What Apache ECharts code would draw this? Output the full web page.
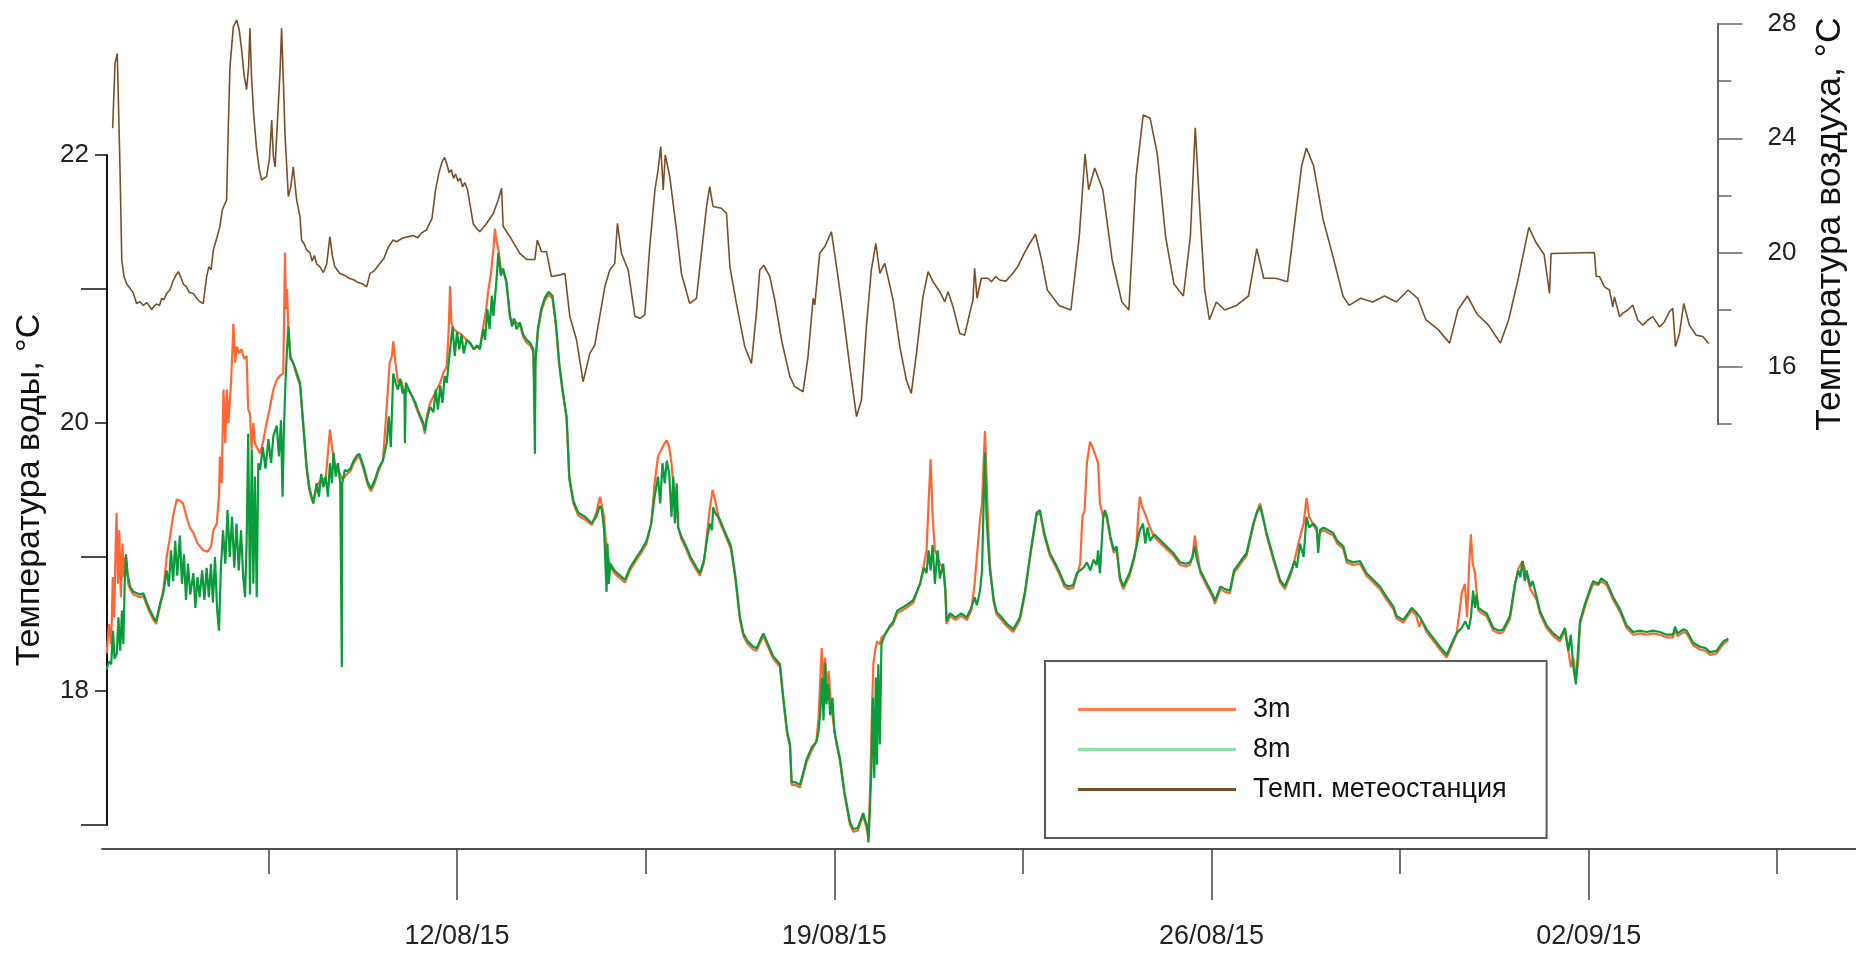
<!DOCTYPE html>
<html>
<head>
<meta charset="utf-8">
<script src="https://cdn.jsdelivr.net/npm/echarts@6/dist/echarts.min.js"></script>
<style>
  html, body { margin: 0; padding: 0; background: #fff; }
  #chart { width: 1856px; height: 953px; }
</style>
</head>
<body>
<div id="chart"></div>
<script>
// Time is measured in hours from 05/08/2015 00:00 (UTC).
const timeOrigin = Date.UTC(2015, 7, 5);

// Labelled date ticks and the unlabelled half-week ticks between them (hours).
const dateTicks = ['12/08/15', '19/08/15', '26/08/15', '02/09/15'];
const midWeekTicks = [84, 252, 420, 588, 756];

// Water temperature axis (left) and air temperature axis (right).
const waterTicks = [18, 20, 22];
const waterMinorTicks = [17, 19, 21];
const airTicks = [16, 20, 24, 28];
const airMinorTicks = [14, 18, 22, 26];

// Water temperature at 3 m, [hour, °C]
const water3m = [
  [12.0,18.28],[13.0,18.50],[14.0,18.35],[14.7,18.85],[15.3,18.55],[16.0,19.10],[16.4,19.33],[17.0,18.80],[17.6,19.20],[18.3,18.70],[19.0,19.10],[19.6,18.85],[20.3,19.00],[20.9,18.95],[21.6,18.80],[22.4,18.76],
  [23.9,18.72],[26.8,18.70],[28.3,18.71],[30.5,18.61],[32.8,18.53],[34.0,18.50],[35.7,18.63],[37.2,18.75],
  [38.7,19.00],[40.0,19.13],[41.5,19.30],[43.2,19.43],[44.6,19.42],[46.0,19.40],[47.5,19.30],[49.0,19.22],[50.6,19.18],[52.5,19.10],[55.0,19.05],[57.0,19.04],[58.5,19.08],[59.5,19.20],[61.0,19.25],[62.0,19.45],[62.4,19.75],[63.2,19.55],[64.0,20.25],[64.8,19.85],[65.5,20.25],[66.2,20.00],[67.2,20.25],[68.0,20.55],[68.4,20.74],[69.2,20.45],[69.9,20.57],[71.0,20.52],[72.0,20.55],[73.2,20.48],[74.3,20.50],
  [75.0,20.10],[75.8,20.07],[76.5,19.80],[77.3,20.00],[78.0,19.85],[78.8,19.82],[80.3,19.77],[81.5,19.85],[83.2,20.00],[84.5,20.10],[86.2,20.25],[87.7,20.32],[89.0,20.35],[90.6,20.37],[91.0,20.80],[91.4,21.27],[91.8,20.85],[92.3,21.00],[92.9,20.70],
  [93.8,20.50],[95.0,20.45],[96.5,20.36],[98.1,20.28],[99.5,19.98],[101.0,19.66],[102.2,19.50],[103.3,19.43],[104.0,19.40],[105.5,19.53],[107.5,19.58],[109.5,19.58],[111.4,19.95],[112.5,19.80],[113.5,19.70],[115.0,19.65],[117.0,19.58],
  [119.0,19.62],[120.5,19.64],[122.0,19.70],[123.5,19.74],[124.5,19.75],[126.3,19.66],[128.2,19.54],[129.7,19.49],[131.5,19.56],[133.0,19.64],[135.0,19.72],[136.0,19.95],[137.0,20.20],[138.0,20.45],[139.0,20.50],[139.6,20.61],
  [140.6,20.45],[141.7,20.30],[143.0,20.32],[144.8,20.22],[146.5,20.25],[148.0,20.20],[149.5,20.13],[151.5,20.04],[153.0,19.98],[153.7,19.92],[154.5,20.05],[156.0,20.15],[157.5,20.20],[159.0,20.25],[160.5,20.30],[162.0,20.38],[163.4,20.42],
  [164.3,20.70],[164.9,21.02],[165.5,20.75],[166.5,20.70],[168.0,20.68],[170.0,20.66],[172.3,20.62],[173.8,20.59],[175.5,20.55],[177.0,20.57],[178.2,20.56],[179.7,20.72],[181.0,20.85],[182.0,21.00],[183.0,21.10],[184.2,21.30],[184.9,21.45],[185.6,21.35],[186.4,21.30],[187.5,21.15],[188.5,21.15],[190.0,21.05],
  [191.6,20.78],[193.5,20.76],[196.0,20.73],[197.5,20.64],[199.0,20.60],[200.5,20.58],[202.0,20.53],[202.5,20.53],[202.7,20.10],[202.9,20.45],[204.0,20.68],[205.5,20.83],[207.0,20.91],[208.7,20.96],[210.5,20.93],[212.0,20.73],[213.5,20.43],[215.0,20.23],[216.8,20.03],
  [218.0,19.58],[219.8,19.40],[222.0,19.31],[225.0,19.28],[228.0,19.24],[230.0,19.33],[231.7,19.45],[232.4,19.46],[233.5,19.30],[234.6,19.05],[236.3,18.93],[238.0,18.88],[240.0,18.85],[242.8,18.81],[245.0,18.90],[248.0,18.98],[250.0,19.03],[252.4,19.10],
  [254.5,19.25],[256.0,19.55],[257.5,19.75],[259.0,19.80],[260.5,19.85],[261.4,19.87],[262.5,19.82],[263.5,19.70],[264.3,19.55],[265.8,19.40],[266.5,19.22],[268.0,19.13],[270.0,19.06],[272.0,18.98],[274.7,18.90],[276.2,18.86],
  [278.0,18.96],[279.5,19.20],[280.5,19.35],[281.8,19.50],[283.0,19.42],[285.0,19.26],[287.5,19.16],[290.0,19.06],[292.0,18.83],[294.0,18.53],[295.5,18.41],[297.5,18.35],[300.0,18.31],[301.4,18.30],[303.0,18.36],[304.4,18.41],[306.5,18.33],[308.8,18.24],[311.8,18.18],
  [313.3,17.93],[315.0,17.68],[316.3,17.58],[317.0,17.30],[318.5,17.30],[320.7,17.28],[322.0,17.36],[323.7,17.47],[326.0,17.56],[328.0,17.62],[329.0,17.80],[329.8,18.10],[330.4,18.32],[331.2,18.05],[331.9,18.25],[332.8,18.00],[333.5,18.15],[334.5,17.90],[336.0,17.72],[337.0,17.60],
  [338.5,17.48],[340.5,17.23],[343.0,17.00],[344.5,16.95],[346.5,16.96],[348.0,17.03],[348.9,17.07],[350.0,17.00],[350.7,16.95],[351.2,16.90],[352.0,17.30],[352.7,17.80],[353.4,18.20],[354.2,18.30],[355.0,18.37],[356.3,18.35],[357.1,18.40],
  [358.5,18.42],[360.5,18.47],[362.3,18.50],[364.0,18.58],[367.0,18.61],[369.7,18.64],[371.2,18.66],[374.2,18.80],[376.0,18.95],[377.1,19.05],[378.0,19.40],[378.9,19.73],[379.8,19.30],[380.8,19.05],[382.0,19.00],[383.0,18.95],[384.5,18.92],[385.5,18.73],[386.0,18.50],
  [387.5,18.56],[390.0,18.53],[392.5,18.56],[395.0,18.53],[397.0,18.60],[398.5,18.80],[399.5,19.00],[400.9,19.28],[401.8,19.40],[402.5,19.70],[403.1,19.94],[403.8,19.60],[404.5,19.25],[405.3,18.95],[407.0,18.66],[408.3,18.57],[410.5,18.53],[413.0,18.48],[415.7,18.44],[418.7,18.53],[421.0,18.73],[423.5,19.03],[426.1,19.31],
  [427.6,19.33],[429.5,19.16],[432.0,19.01],[434.5,18.93],[436.5,18.86],[438.5,18.78],[440.2,18.76],[442.4,18.77],[444.0,18.86],[445.5,18.95],[446.5,19.30],[447.5,19.35],[448.5,19.70],[449.9,19.86],[451.0,19.82],[452.5,19.75],[453.5,19.70],[454.3,19.40],[455.8,19.30],[456.5,19.33],[457.5,19.28],
  [459.0,19.13],[460.5,19.03],[461.7,19.06],[463.2,18.83],[464.7,18.76],[467.5,18.86],[469.5,18.98],[470.6,19.10],[471.5,19.35],[472.1,19.45],[473.0,19.38],[474.5,19.32],[476.6,19.22],[478.5,19.15],[481.5,19.10],[484.5,19.05],[487.0,19.01],
  [490.0,18.94],[492.5,18.93],[494.4,18.94],[495.5,19.00],[496.6,19.16],[497.5,19.05],[499.0,18.88],[502.0,18.78],[504.8,18.69],[505.5,18.65],[508.0,18.76],[510.0,18.74],[512.2,18.73],[514.0,18.88],[517.0,18.95],[519.6,19.01],[522.6,19.23],[524.0,19.33],[525.6,19.40],[527.0,19.30],[528.5,19.16],[531.5,18.98],[534.5,18.81],[536.7,18.76],
  [539.5,18.88],[541.0,18.98],[542.0,19.05],[543.4,19.15],[545.0,19.25],[546.3,19.44],[547.5,19.30],[549.3,19.24],[550.8,19.20],[551.5,19.12],[552.3,19.18],[553.8,19.20],[556.0,19.18],[558.2,19.16],[560.0,19.10],[562.7,19.06],[564.2,18.96],[567.1,18.94],
  [570.1,18.95],[573.0,18.86],[576.0,18.81],[579.0,18.76],[582.0,18.68],[585.0,18.61],[586.4,18.54],[589.4,18.51],[591.5,18.56],[593.1,18.60],[595.0,18.57],[596.5,18.48],[597.5,18.53],[599.8,18.44],[602.5,18.38],[605.7,18.31],[608.7,18.25],
  [611.6,18.36],[613.1,18.42],[614.5,18.60],[615.4,18.73],[616.8,18.80],[617.8,18.55],[618.6,18.90],[619.5,19.17],[620.3,18.95],[621.3,18.88],[622.8,18.60],[624.5,18.58],[626.5,18.56],[629.5,18.45],[632.0,18.43],[633.9,18.44],[636.9,18.54],
  [639.1,18.78],[640.6,18.91],[642.5,18.97],[644.3,18.86],[646.0,18.76],[648.8,18.68],[650.2,18.58],[653.2,18.47],[656.2,18.41],[659.1,18.37],[661.4,18.45],[662.9,18.30],[664.0,18.18],[665.1,18.25],[666.3,18.10],[667.2,18.20],[668.1,18.50],[670.3,18.63],
  [673.2,18.77],[674.0,18.80],[676.2,18.79],[677.5,18.82],[680.0,18.79],[682.9,18.68],[685.9,18.59],[688.8,18.47],[691.8,18.42],[695.0,18.43],[697.7,18.42],[700.5,18.43],[703.7,18.42],[706.6,18.40],[709.5,18.40],[710.4,18.46],[711.5,18.41],
  [714.1,18.44],[715.6,18.43],[718.5,18.34],[721.5,18.31],[724.0,18.30],[726.0,18.27],[728.9,18.28],[731.9,18.35],[734.1,18.38]
];

// Water temperature at 8 m, [hour, °C]
const water8m = [
  [12.0,18.16],[13.0,18.22],[14.0,18.20],[14.8,18.45],[15.5,18.24],[16.5,18.28],[17.2,18.55],[18.0,18.30],[18.8,18.60],[19.4,18.35],[20.0,18.80],[20.6,19.02],[21.2,18.88],[22.4,18.78],
  [23.9,18.74],[26.8,18.72],[28.3,18.73],[30.5,18.63],[32.8,18.55],[34.0,18.52],[35.7,18.65],[37.2,18.73],
  [38.7,18.90],[39.7,18.78],[40.6,19.05],[41.6,18.82],[42.5,19.12],[43.4,18.86],[44.6,19.16],[45.5,18.80],[46.4,19.02],[47.3,18.68],[48.2,18.95],[49.2,18.72],[50.6,18.88],[51.5,18.62],[52.4,18.85],[53.4,18.70],[54.5,18.90],[55.5,18.68],[56.5,18.92],[57.5,18.70],[58.4,18.95],[59.3,18.66],[60.2,19.00],[61.2,18.60],[62.0,18.45],[62.8,18.90],
  [63.8,19.20],[64.8,18.95],[65.8,19.35],[66.8,19.00],[67.8,19.30],[68.8,18.92],[69.8,19.25],[70.8,18.90],[71.8,19.20],[72.8,18.85],[73.6,18.70],[74.3,19.10],
  [75.0,19.92],[75.8,18.72],[76.6,19.80],[77.3,18.80],[78.0,19.60],[78.8,18.70],[79.5,19.70],
  [80.3,19.65],[81.5,19.82],[82.7,19.66],[84.0,19.88],[85.2,19.70],[86.2,19.90],[87.7,19.98],[88.7,19.75],[89.6,20.02],[90.3,19.45],[90.9,19.95],[91.6,20.30],[92.3,20.55],[92.9,20.72],
  [93.8,20.48],[95.0,20.45],[96.5,20.38],[98.1,20.30],[99.5,20.00],[101.0,19.68],[102.2,19.52],[103.3,19.45],[104.0,19.40],
  [105.5,19.55],[106.5,19.45],[107.5,19.62],[108.5,19.52],[109.5,19.60],[110.5,19.45],[111.4,19.70],[112.3,19.55],[113.0,19.78],[114.0,19.60],[115.0,19.70],[116.0,19.55],[116.5,19.55],[116.7,18.18],[116.9,19.55],[118.0,19.65],
  [119.0,19.64],[120.5,19.66],[122.0,19.72],[123.5,19.76],[124.5,19.77],[126.3,19.68],[128.2,19.56],[129.7,19.51],[131.5,19.58],[133.0,19.66],[135.0,19.72],
  [136.7,19.85],[137.6,20.05],[138.5,19.82],[139.6,20.37],[140.6,20.30],[141.7,20.25],[142.7,20.33],[143.8,20.22],[144.6,20.25],[144.8,19.85],[145.2,20.30],[146.5,20.25],[148.0,20.20],[149.5,20.15],[150.5,20.10],[151.5,20.06],
  [153.0,20.00],[153.7,19.94],[154.5,20.02],[156.0,20.12],[157.5,20.08],[158.5,20.25],[159.5,20.10],[160.5,20.28],[161.5,20.15],[162.5,20.35],[163.4,20.30],
  [164.9,20.55],[166.0,20.72],[167.0,20.50],[168.0,20.68],[169.0,20.55],[170.0,20.66],[171.0,20.52],[172.3,20.62],[173.8,20.60],[175.5,20.55],[177.0,20.58],[178.2,20.55],
  [179.7,20.70],[180.5,20.62],[181.5,20.85],[182.5,20.70],[183.5,20.95],[184.2,20.80],[185.5,21.05],[186.4,21.27],[187.5,21.10],[188.5,21.15],[190.0,21.05],
  [191.6,20.80],[192.5,20.72],[193.5,20.78],[194.5,20.70],[196.0,20.75],[197.5,20.66],[199.0,20.62],[200.5,20.60],[202.0,20.55],[202.5,20.55],[202.7,19.77],[202.9,20.45],
  [204.0,20.70],[205.5,20.85],[207.0,20.93],[208.7,20.98],[210.5,20.95],[212.0,20.75],[213.5,20.45],[215.0,20.25],[216.8,20.05],
  [218.0,19.60],[219.8,19.42],[222.0,19.33],[225.0,19.30],[228.0,19.25],[230.0,19.30],[231.5,19.38],[232.4,19.36],[233.5,19.20],[234.2,18.90],[234.6,18.74],[235.0,19.10],[235.6,18.80],[236.3,18.95],[238.0,18.90],[240.0,18.87],[242.8,18.83],[245.0,18.92],[248.0,19.00],[250.0,19.05],[252.4,19.12],
  [254.5,19.25],[256.0,19.45],[257.5,19.60],[258.5,19.40],[259.5,19.70],[260.5,19.55],[261.4,19.72],[262.5,19.62],[263.5,19.30],[264.3,19.60],[265.0,19.25],[265.8,19.55],[266.5,19.22],
  [268.0,19.15],[270.0,19.08],[272.0,19.00],[274.7,18.92],[276.2,18.88],[278.0,18.98],[279.5,19.15],[280.5,19.25],[281.5,19.20],[282.1,19.37],[283.0,19.33],[285.0,19.28],[287.5,19.18],[290.0,19.08],[292.0,18.85],[294.0,18.55],[295.5,18.43],
  [297.5,18.37],[300.0,18.33],[301.4,18.32],[303.0,18.38],[304.4,18.43],[306.5,18.35],[308.8,18.26],[311.8,18.20],[313.3,17.95],[315.0,17.70],[316.3,17.60],[317.0,17.32],[318.5,17.32],[320.7,17.30],[322.0,17.38],[323.7,17.49],[326.0,17.58],[328.0,17.62],[329.0,17.70],
  [329.8,17.85],[330.6,18.10],[331.2,17.78],[331.9,18.21],[332.5,17.90],[333.3,18.05],[334.2,17.82],[335.2,17.95],[336.0,17.70],[337.0,17.62],[338.5,17.50],[340.5,17.25],[343.0,17.02],[344.5,16.97],[346.5,16.98],[348.0,17.05],[348.9,17.09],[350.0,17.02],[350.7,17.00],[351.2,16.87],[351.7,17.05],
  [352.5,17.40],[353.2,17.95],[353.8,17.35],[354.5,18.10],[355.0,17.45],[355.6,18.20],[356.3,17.60],[357.0,18.35],[358.5,18.42],[360.5,18.48],[362.3,18.52],[364.0,18.60],[367.0,18.63],[369.7,18.66],[371.2,18.68],
  [374.2,18.80],[376.0,18.92],[377.1,18.88],[378.0,19.05],[378.9,18.90],[379.8,19.09],[380.8,18.80],[382.0,19.05],[383.0,18.84],[384.5,18.95],[385.5,18.75],[386.0,18.52],[387.5,18.58],[390.0,18.55],[392.5,18.58],[395.0,18.55],
  [397.0,18.62],[398.5,18.70],[399.5,18.64],[400.9,18.75],[401.8,18.90],[402.5,19.40],[403.1,19.78],[403.8,19.30],[404.5,19.10],[405.3,18.90],[407.0,18.68],[408.3,18.59],[410.5,18.55],[413.0,18.50],[415.7,18.46],[418.7,18.55],[421.0,18.75],[423.5,19.05],[426.1,19.33],
  [427.6,19.35],[429.5,19.18],[432.0,19.03],[434.5,18.95],[436.5,18.88],[438.5,18.80],[440.2,18.78],[442.4,18.79],[444.0,18.88],[445.5,18.90],[447.0,18.92],[448.5,18.96],[450.0,18.90],[451.5,18.98],[452.8,18.94],[453.5,19.05],[454.3,18.88],[455.8,19.30],[456.5,19.35],[457.5,19.30],
  [459.0,19.15],[460.5,19.05],[461.7,19.08],[463.2,18.85],[464.7,18.78],[467.5,18.88],[469.5,19.00],[470.6,19.08],[472.1,19.20],[473.5,19.25],[474.5,19.10],[475.5,19.22],[476.6,19.12],[478.5,19.17],[481.5,19.12],[484.5,19.07],[487.0,19.03],
  [490.0,18.96],[492.5,18.95],[494.4,18.96],[495.5,19.00],[496.6,19.08],[497.5,18.98],[499.0,18.90],[502.0,18.80],[504.8,18.71],[505.5,18.67],[508.0,18.78],[510.0,18.76],[512.2,18.75],[514.0,18.90],[517.0,18.97],[519.6,19.03],[522.6,19.25],[524.0,19.32],[525.6,19.38],[528.5,19.18],[531.5,19.00],[534.5,18.83],[536.7,18.78],
  [539.5,18.90],[541.0,18.97],[542.0,18.92],[543.4,19.10],[545.0,19.00],[546.3,19.30],[547.5,19.22],[549.3,19.25],[550.8,19.22],[551.5,19.03],[552.3,19.20],[553.8,19.22],[556.0,19.20],[558.2,19.18],[560.0,19.12],[562.7,19.08],[564.2,18.98],[567.1,18.96],
  [570.1,18.97],[573.0,18.88],[576.0,18.83],[579.0,18.78],[582.0,18.70],[585.0,18.63],[586.4,18.56],[589.4,18.53],[591.5,18.58],[593.1,18.62],[595.0,18.59],[596.8,18.55],[599.8,18.46],[602.5,18.40],[605.7,18.33],[608.7,18.27],
  [611.6,18.38],[613.1,18.43],[615.4,18.47],[617.0,18.52],[618.5,18.46],[619.5,18.55],[620.5,18.75],[621.3,18.62],[622.0,18.72],[622.8,18.62],[624.5,18.60],[626.5,18.58],[629.5,18.47],[632.0,18.45],[633.9,18.46],[636.9,18.56],
  [639.1,18.80],[640.6,18.90],[641.5,18.85],[642.5,18.97],[643.5,18.82],[644.3,18.90],[646.0,18.78],[647.0,18.82],[648.8,18.70],[650.2,18.60],[653.2,18.49],[656.2,18.43],[659.1,18.39],[661.4,18.47],[662.9,18.30],[664.0,18.42],[665.1,18.18],[666.3,18.05],[667.2,18.30],[668.1,18.52],[670.3,18.65],
  [673.2,18.79],[674.0,18.82],[676.2,18.80],[677.5,18.84],[680.0,18.81],[682.9,18.70],[685.9,18.61],[688.8,18.49],[691.8,18.44],[695.0,18.45],[697.7,18.44],[700.5,18.45],[703.7,18.44],[706.6,18.42],[709.5,18.42],[710.4,18.48],[711.5,18.43],
  [714.1,18.46],[715.6,18.45],[718.5,18.36],[721.5,18.33],[724.0,18.32],[726.0,18.29],[728.9,18.30],[731.9,18.37],[734.1,18.39]
];

// Air temperature at the weather station, [hour, °C]
const airStation = [
  [14.65,24.35],[15.7,26.62],[16.7,26.97],[17.9,23.0],[18.7,19.74],[19.7,19.16],[20.9,18.9],[22.4,18.75],[23.9,18.57],[25.3,18.22],[26.8,18.28],[28.3,18.15],[29.8,18.25],[31.3,18.1],[32.0,18.0],[33.0,18.12],[34.2,18.2],[35.5,18.15],[36.5,18.4],[37.5,18.35],[38.7,18.57],
  [40.2,18.7],[41.5,19.0],[42.8,19.2],[43.9,19.33],[45.0,19.15],[46.1,18.9],[47.5,18.8],[48.8,18.6],[50.6,18.57],[52.0,18.4],[53.5,18.28],[55.0,18.22],[56.5,19.16],[57.5,19.5],[58.5,19.4],[59.5,20.09],[61.0,20.5],[62.4,20.9],[63.5,21.5],[65.4,21.84],
  [66.2,24.5],[66.9,26.5],[68.4,27.9],[69.9,28.14],[71.0,27.8],[72.1,27.1],[73.2,26.2],[74.3,25.7],[75.2,26.5],[75.8,27.85],[76.5,26.16],[77.5,24.8],[78.8,23.59],[80.0,22.9],[81.0,22.54],[82.0,22.6],[83.2,22.66],[84.5,23.3],[85.5,24.64],[86.2,23.4],[87.0,23.0],[88.4,25.1],[89.3,26.5],[89.9,27.85],[90.7,26.0],[91.4,24.17],[92.9,21.96],[94.0,22.3],[95.1,23.0],[96.6,21.84],[98.1,21.26],[98.8,20.44],
  [100.0,20.3],[101.0,20.1],[102.5,20.0],[103.5,19.7],[104.5,19.9],[105.5,19.6],[107.0,19.5],[108.5,19.3],[110.0,19.6],[111.4,20.56],[112.5,19.9],[113.6,19.5],[115.9,19.27],[118.0,19.2],[120.0,19.1],[122.0,19.05],[124.0,18.95],[126.0,18.9],[127.8,18.8],[129.3,19.27],[131.0,19.35],[133.7,19.62],[135.5,19.8],[137.5,20.2],[139.6,20.44],[141.1,20.38],
  [143.7,20.5],[146.0,20.55],[148.5,20.6],[150.5,20.52],[152.5,20.7],[154.5,20.8],[156.9,21.2],[158.5,22.2],[160.0,22.8],[161.5,23.2],[162.5,23.33],[163.5,23.1],[164.5,22.8],[165.5,22.9],[166.5,22.6],[167.4,22.75],[168.5,22.5],[169.5,22.6],[170.5,22.3],[171.5,22.45],[172.7,22.2],[174.0,21.6],[175.3,21.0],[176.7,20.85],
  [178.2,20.73],[181.2,21.02],[184.2,21.37],[186.4,21.84],[187.9,22.25],[188.6,20.91],[191.6,20.56],[196.0,19.97],[199.0,19.76],[202.7,19.76],[203.8,20.44],[205.7,20.03],[207.9,20.03],[210.1,19.16],[213.9,19.22],[216.1,19.27],
  [218.3,17.76],[221.3,16.94],[224.2,15.48],[227.2,16.47],[229.4,16.76],[233.9,18.81],[236.1,19.39],[238.3,19.62],[239.5,21.02],[241.3,19.97],[244.3,19.39],[247.3,17.76],[249.5,17.70],[251.7,17.82],[253.9,20.21],[256.2,22.19],[257.6,22.89],[258.8,23.71],[259.9,22.19],[260.8,23.42],[262.8,22.66],[265.8,20.79],[268.0,19.27],[271.7,18.22],[274.7,18.40],
  [276.9,19.97],[279.2,21.61],[280.6,22.31],[282.1,21.61],[285.8,21.55],[288.1,21.37],[289.6,19.51],[292.5,18.22],[296.2,16.71],[299.2,16.12],[301.4,17.87],[302.9,19.39],[304.7,19.56],[307.4,19.16],[309.6,18.34],[312.6,16.94],[316.3,15.66],[318.5,15.31],[322.2,15.13],[324.4,16.36],[326.7,18.40],[327.4,18.17],[329.6,19.97],[331.9,20.21],[334.8,20.73],
  [337.1,19.51],[340.0,17.87],[343.0,16.01],[346.0,14.26],[348.2,14.84],[350.4,17.41],[352.6,19.39],[354.6,20.32],[356.4,19.27],[358.6,19.62],[362.3,18.34],[365.3,16.71],[368.2,15.54],[370.4,15.07],[372.7,16.47],[375.6,18.46],[377.9,19.33],[380.1,18.98],[383.1,18.63],[385.3,18.28],[386.8,18.63],[389.0,18.10],[392.0,17.17],[394.2,17.11],[396.4,17.87],[397.9,18.34],[398.6,19.45],[399.7,18.40],[401.6,19.10],[404.6,19.10],[406.1,18.98],[408.0,19.16],[409.8,19.04],
  [412.5,19.0],[415.2,19.23],[417.8,19.5],[420.4,19.93],[423.0,20.3],[425.7,20.64],[428.3,19.8],[431.0,18.69],[436.2,18.15],[441.5,17.99],[445.2,20.55],[447.8,23.45],[449.4,22.2],[452.1,22.96],[455.7,22.2],[459.9,19.73],[464.2,18.27],[467.3,17.99],[470.5,22.63],[473.7,24.82],[476.8,24.70],[480.0,23.45],[483.7,20.55],[487.4,18.9],[491.6,18.48],[494.7,20.55],[496.9,24.37],[499.0,21.38],[501.1,18.69],[503.2,17.65],
  [506.3,18.27],[510.0,17.99],[515.3,18.15],[520.6,18.48],[524.3,20.14],[527.4,19.1],[532.7,19.1],[538.0,18.98],[541.7,21.38],[544.3,23.04],[546.4,23.66],[549.6,23.04],[553.8,21.17],[558.0,19.93],[562.7,18.48],[565.4,18.15],[570.6,18.4],[575.9,18.27],[581.2,18.48],[586.5,18.27],[591.7,18.69],[596.0,18.4],[599.6,17.65],[604.9,17.32],[610.2,16.83],
  [613.9,17.99],[618.1,18.48],[622.3,17.86],[627.6,17.45],[632.8,16.83],[636.5,17.65],[640.8,19.1],[645.5,20.88],[648.7,20.35],[652.3,19.93],[654.7,18.57],[655.4,19.97],[656.2,20.0],[674.7,20.0],[675.5,19.16],[677.0,19.16],[679.2,18.8],[681.4,18.69],[682.9,18.1],[683.6,18.45],[685.9,17.76],[687.4,17.88],[689.6,17.99],[691.8,18.16],[694.0,17.64],[696.3,17.46],[698.5,17.64],[700.7,17.76],[702.2,17.58],[703.7,17.4],[705.9,17.58],[708.1,17.93],[709.6,18.05],[710.8,16.71],[712.6,17.17],[714.5,18.22],[717.0,17.46],[720.0,17.11],[723.0,17.06],[725.6,16.82]
];

const FONT = '"Liberation Sans", Arial, Helvetica, sans-serif';

function hoursFromLabel(s) {
  const [d, m, y] = s.split('/').map(Number);
  return (Date.UTC(2000 + y, m - 1, d) - timeOrigin) / 3600000;
}
const dateTickHours = dateTicks.map(hoursFromLabel);
function dateLabel(value) {
  const i = dateTickHours.findIndex(h => Math.abs(h - value) < 1e-6);
  return i >= 0 ? dateTicks[i] : '';
}

const xMin = 9.9, xMax = 791;

const chart = echarts.init(document.getElementById('chart'), null, { renderer: 'canvas' });
chart.setOption({
  animation: false,
  backgroundColor: '#ffffff',
  textStyle: { fontFamily: FONT },
  grid: [
    { left: 102, right: 0, top: 155, height: 670 },   // water temperature panel
    { left: 102, right: 0, top: 24, height: 400 }     // air temperature panel
  ],
  xAxis: [
    {
      gridIndex: 0, type: 'value', min: xMin, max: xMax, position: 'bottom', offset: 24,
      axisLine: { show: true, lineStyle: { color: '#505050', width: 2 } },
      axisTick: { show: true, customValues: dateTickHours, length: 51, lineStyle: { color: '#444', width: 1.5 } },
      axisLabel: { show: true, customValues: dateTickHours, formatter: dateLabel, margin: 74,
                   fontSize: 27, color: '#222', fontFamily: FONT },
      splitLine: { show: false }
    },
    {
      gridIndex: 1, type: 'value', min: xMin, max: xMax, position: 'bottom', offset: 425,
      axisLine: { show: false },
      axisTick: { show: true, customValues: midWeekTicks, length: 25, lineStyle: { color: '#444', width: 1.5 } },
      axisLabel: { show: false },
      splitLine: { show: false }
    }
  ],
  yAxis: [
    {
      gridIndex: 0, type: 'value', min: 17, max: 22, position: 'left', offset: -5,
      axisLine: { show: true, lineStyle: { color: '#111', width: 2 } },
      axisTick: { show: true, customValues: waterTicks, length: 12, lineStyle: { color: '#111', width: 1.5 } },
      axisLabel: { show: true, customValues: waterTicks, margin: 18, fontSize: 26, color: '#222', fontFamily: FONT },
      splitLine: { show: false },
      name: 'Температура воды, °С', nameLocation: 'middle', nameGap: 60,
      nameTextStyle: { fontSize: 34, lineHeight: 34, color: '#111', fontFamily: FONT }
    },
    {
      gridIndex: 0, type: 'value', min: 17, max: 22, position: 'left', offset: -5,
      axisLine: { show: false },
      axisTick: { show: true, customValues: waterMinorTicks, length: 26, lineStyle: { color: '#111', width: 1.5 } },
      axisLabel: { show: false },
      splitLine: { show: false }
    },
    {
      gridIndex: 1, type: 'value', min: 14, max: 28, position: 'right', offset: -138,
      axisLine: { show: true, lineStyle: { color: '#666', width: 2 } },
      axisTick: { show: true, customValues: airTicks, length: 25, lineStyle: { color: '#666', width: 1.5 } },
      axisLabel: { show: true, customValues: airTicks, margin: 50, fontSize: 26, color: '#222', fontFamily: FONT },
      splitLine: { show: false },
      name: 'Температура воздуха, °С', nameLocation: 'middle', nameGap: 95,
      nameTextStyle: { fontSize: 35.5, lineHeight: 35, color: '#111', fontFamily: FONT }
    },
    {
      gridIndex: 1, type: 'value', min: 14, max: 28, position: 'right', offset: -138,
      axisLine: { show: false },
      axisTick: { show: true, customValues: airMinorTicks, length: 14, lineStyle: { color: '#666', width: 1.5 } },
      axisLabel: { show: false },
      splitLine: { show: false }
    }
  ],
  legend: {
    orient: 'vertical', left: 1045, top: 661,
    padding: [35, 40, 35, 33],
    itemWidth: 158, itemHeight: 3, itemGap: 13, icon: 'rect',
    borderColor: '#5a5a5a', borderWidth: 2, backgroundColor: '#fff',
    selectedMode: false,
    textStyle: { fontSize: 27, lineHeight: 27, color: '#111', fontFamily: FONT, padding: [0, 0, 0, 12] },
    data: [
      { name: '3m', itemStyle: { color: '#FF7F50' } },
      { name: '8m', itemStyle: { color: '#8DE3A8' } },
      { name: 'Темп. метеостанция', itemStyle: { color: '#7B4F26' } }
    ]
  },
  series: [
    {
      name: '3m', type: 'line', xAxisIndex: 0, yAxisIndex: 0, data: water3m,
      showSymbol: false, symbol: 'none', clip: false, z: 2,
      lineStyle: { color: '#FF6633', width: 2.2 }, itemStyle: { color: '#FF6633' }
    },
    {
      name: '8m', type: 'line', xAxisIndex: 0, yAxisIndex: 0, data: water8m,
      showSymbol: false, symbol: 'none', clip: false, z: 3,
      lineStyle: { color: '#0A9B3A', width: 2.2 }, itemStyle: { color: '#0A9B3A' }
    },
    {
      name: 'Темп. метеостанция', type: 'line', xAxisIndex: 1, yAxisIndex: 2, data: airStation,
      showSymbol: false, symbol: 'none', clip: false, z: 2,
      lineStyle: { color: '#7B4F26', width: 1.6 }, itemStyle: { color: '#7B4F26' }
    }
  ]
});
</script>
</body>
</html>
